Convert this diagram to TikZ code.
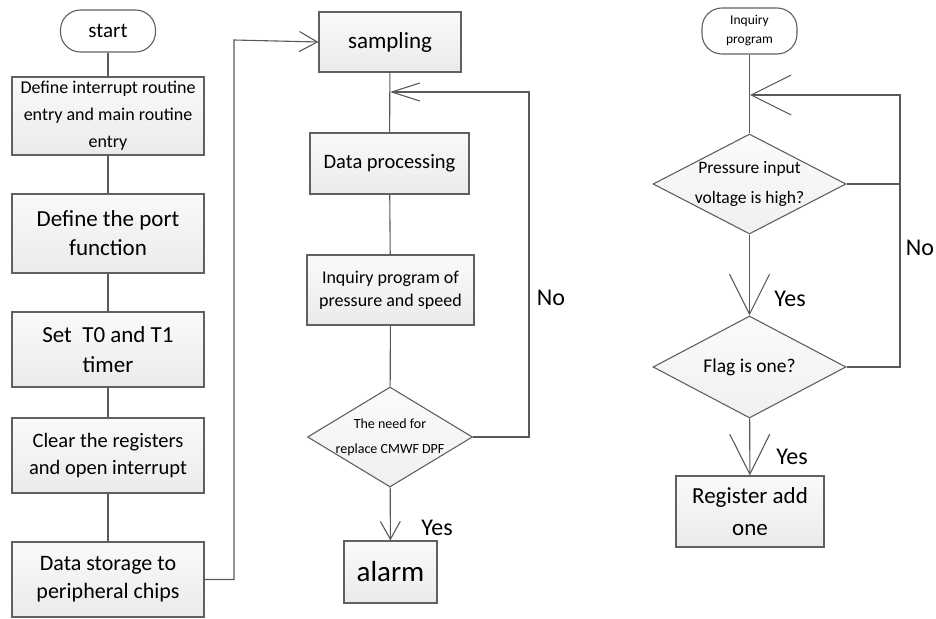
\documentclass[tikz,border=0pt]{standalone}
\usepackage{fontspec}
\setmainfont{Carlito}
\usetikzlibrary{arrows.meta,shapes.geometric}
\tikzset{
  fs/.style 2 args={font=\fontsize{#1pt}{#2pt}\selectfont},
  box/.style={draw=gray!75!black, line width=1.1pt, top color=gray!4, bottom color=gray!16,
    align=center, inner sep=0pt},
  term/.style={draw=gray!75!black, line width=1.1pt, fill=white, rounded corners=20pt,
    align=center, inner sep=0pt},
  decide/.style={diamond, draw=gray!75!black, line width=1.1pt, top color=gray!3, bottom color=gray!12,
    inner sep=0pt},
  inside/.style={align=center, inner sep=0pt},
  link/.style={draw=gray!70!black, line width=1.1pt},
  midtip/.style={-{Straight Barb[length=18pt,width=20pt,line width=1.1pt]}},
  bigtip/.style={-{Straight Barb[length=40pt,width=40pt,line width=1.1pt]}},
  lab/.style={fs={24}{26}, inner sep=0pt}
}
\begin{document}
\begin{tikzpicture}[x=1pt,y=-1pt]
\useasboundingbox (0,0) rectangle (936,618);
\node [term, fs={21}{24}, minimum width=95pt, minimum height=42pt] (start) at (108,31) {start};
\node [box, fs={18}{27}, minimum width=192pt, minimum height=78pt] (entry) at (108,116) {Define interrupt routine\\entry and main routine\\entry};
\node [box, fs={23}{29}, minimum width=192pt, minimum height=79pt] (port) at (108,233.5) {Define the port\\function};
\node [box, fs={23}{30}, minimum width=192pt, minimum height=75pt] (timer) at (108,349.5) {Set\ \ T0 and T1\\timer};
\node [box, fs={20.5}{27}, minimum width=192pt, minimum height=75pt] (clear) at (108,455.5) {Clear the registers\\and open interrupt};
\node [box, fs={22}{28}, minimum width=192pt, minimum height=75pt] (store) at (108,579.5) {Data storage to\\peripheral chips};
\draw [link] (start) -- (entry) ;
\draw [link] (entry) -- (port) ;
\draw [link] (port) -- (timer) ;
\draw [link] (timer) -- (clear) ;
\draw [link] (clear) -- (store) ;
\node [box, fs={23}{26}, minimum width=142pt, minimum height=60pt] (samp) at (390,42) {sampling};
\node [box, fs={20.5}{24}, minimum width=159pt, minimum height=61pt] (proc) at (389.5,163.5) {Data processing};
\node [box, fs={18}{23}, minimum width=167pt, minimum height=70pt] (inq) at (390.5,290) {Inquiry program of\\pressure and speed};
\node [decide, minimum width=165pt, minimum height=100pt] (need) at (390,437) {};
\node [inside, fs={14}{25}] (needtext) at (need) {The need for\\replace CMWF DPF};
\node [box, fs={29}{30}, minimum width=93pt, minimum height=62pt] (alarm) at (390.5,572) {alarm};
\coordinate (back) at (390,92) ;
\coordinate (backno) at (529,92) ;
\coordinate (up) at (234,40) ;
\draw [link, midtip] (store.east) -| (up) -- (samp.west) ;
\draw [link] (samp) -- (proc) ;
\draw [link] (proc) -- (inq) ;
\draw [link] (inq) -- (need) ;
\draw [link, midtip] (need) -- (alarm) ;
\draw [link, {Straight Barb[length=28pt,width=18pt,line width=1.1pt]}-] (back) -- (backno) |- (need.east) ;
\node [lab] (yesA) at (437,528) {Yes};
\node [lab] (noA) at (551,298) {No};
\node [term, fs={13.5}{19}, minimum width=95pt, minimum height=46pt] (query) at (749.5,31) {Inquiry\\program};
\node [decide, minimum width=193pt, minimum height=100pt] (high) at (749.5,184) {};
\node [inside, fs={17.5}{30}] (hightext) at (high) {Pressure input\\voltage is high?};
\node [decide, minimum width=193pt, minimum height=102pt] (flag) at (749.5,367) {};
\node [inside, fs={19.5}{24}] (flagtext) at (flag) {Flag is one?};
\node [box, fs={23}{32}, minimum width=148pt, minimum height=71pt] (reg) at (750,511.5) {Register add\\one};
\coordinate (loop) at (750,95) ;
\coordinate (loopno) at (900,95) ;
\draw [link] (query) -- (high) ;
\draw [link, bigtip] (high) -- (flag) ;
\draw [link, bigtip] (flag) -- (reg) ;
\draw [link, bigtip] (flag.east) -| (loopno) -- (loop) ;
\draw [link] (high.east) -- (high.east -| loopno) ;
\node [lab] (yesB) at (790,299) {Yes};
\node [lab] (yesC) at (792,457) {Yes};
\node [lab] (noB) at (920,248) {No};
\end{tikzpicture}
\end{document}
